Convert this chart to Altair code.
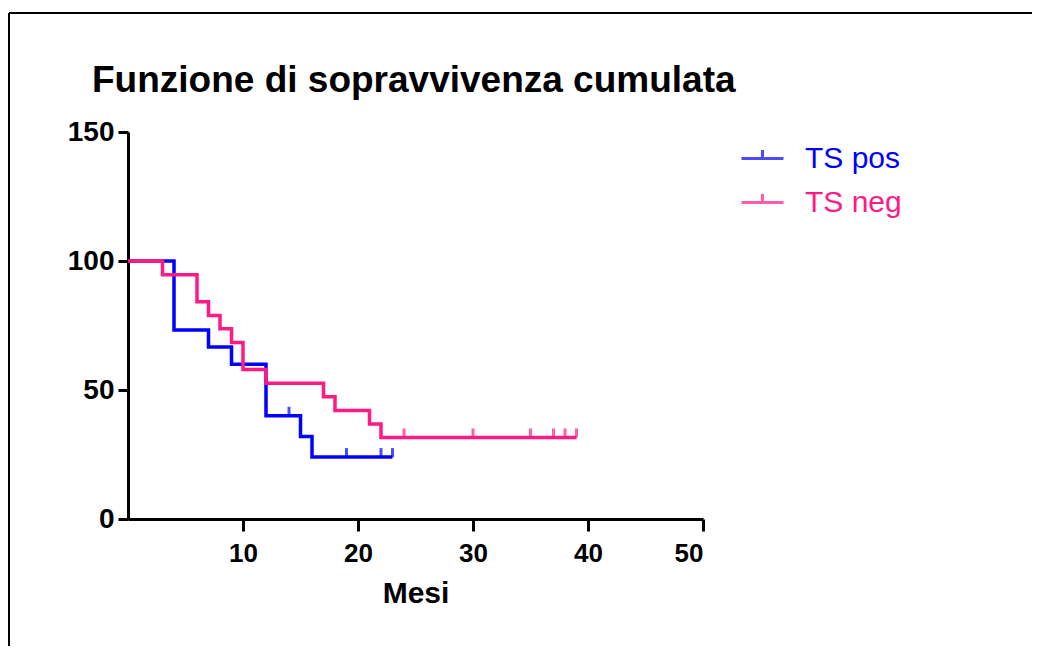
import altair as alt
import pandas as pd

# ---- data ----
series_names = ["TS pos", "TS neg"]
series_colors = ["#0000FF", "#FF1A85"]

pos_time = [0, 4, 7, 9, 12, 15, 16, 23]
pos_surv = [100, 73.3, 66.7, 60, 40, 32, 24, 24]
pos_cens_time = [14, 19, 22, 23]
pos_cens_surv = [40, 24, 24, 24]

neg_time = [0, 3, 6, 7, 8, 9, 10, 12, 17, 18, 21, 22, 39]
neg_surv = [100, 94.7, 84.2, 78.9, 73.7, 68.4, 57.9, 52.6, 47.4, 42.1, 36.8, 31.6, 31.6]
neg_cens_time = [24, 30, 35, 37, 38, 39]
neg_cens_surv = [31.6, 31.6, 31.6, 31.6, 31.6, 31.6]

x_ticks = [10, 20, 30, 40, 50]
y_ticks = [0, 50, 100, 150]

FONT = "Liberation Sans"

pos_df = pd.DataFrame({"t": pos_time, "s": pos_surv, "g": "TS pos"})
neg_df = pd.DataFrame({"t": neg_time, "s": neg_surv, "g": "TS neg"})
cens_df = pd.concat([
    pd.DataFrame({"t": pos_cens_time, "s": pos_cens_surv, "g": "TS pos"}),
    pd.DataFrame({"t": neg_cens_time, "s": neg_cens_surv, "g": "TS neg"}),
])

color = alt.Color(
    "g:N",
    scale=alt.Scale(domain=series_names, range=series_colors),
    legend=alt.Legend(
        title=None,
        orient="none",
        legendX=612,
        legendY=4,
        padding=0,
        symbolType="M-1,0L1,0M0,0L0,-0.4",
        symbolSize=1764,
        symbolStrokeWidth=3,
        symbolFillColor="transparent",
        labelFont=FONT,
        labelFontSize=30,
        labelOffset=20,
        rowPadding=6,
        labelColor={"expr": "datum.label === 'TS pos' ? '#0000FF' : '#FF1A85'"},
    ),
)

x = alt.X(
    "t:Q",
    scale=alt.Scale(domain=[0, 50], nice=False, zero=True),
    axis=alt.Axis(
        values=x_ticks, title="Mesi", grid=False,
        domainColor="black", domainWidth=3, tickColor="black", tickWidth=3,
        tickSize=12, labelPadding=9, labelFont=FONT, labelFontSize=26,
        labelFontWeight="bold", labelColor="black",
        titleFont=FONT, titleFontSize=30, titleFontWeight="bold",
        titleColor="black", titlePadding=12,
    ),
)
y = alt.Y(
    "s:Q",
    scale=alt.Scale(domain=[0, 150], nice=False),
    axis=alt.Axis(
        values=y_ticks, title=None, grid=False,
        domainColor="black", domainWidth=3, tickColor="black", tickWidth=3,
        tickSize=10, labelPadding=4, labelFont=FONT, labelFontSize=28,
        labelFontWeight="bold", labelColor="black",
    ),
)

line_pos = alt.Chart(pos_df).mark_line(interpolate="step-after", strokeWidth=3.5).encode(
    x=x, y=y, color=color)
line_neg = alt.Chart(neg_df).mark_line(interpolate="step-after", strokeWidth=3.5).encode(
    x=x, y=y, color=color)
cens = alt.Chart(cens_df).mark_tick(orient="vertical", size=9, thickness=3, yOffset=-4.5).encode(
    x=x, y=y, color=color)

frame_top = alt.Chart(alt.Data(values=[{}])).mark_rule(color="black", strokeWidth=2).encode(
    x=alt.value(-119), x2=alt.value(920), y=alt.value(-119))
frame_left = alt.Chart(alt.Data(values=[{}])).mark_rule(color="black", strokeWidth=2).encode(
    x=alt.value(-119), y=alt.value(-119), y2=alt.value(600))

chart = alt.layer(frame_top, frame_left, line_pos, line_neg, cens).properties(
    width=575,
    height=387,
    autosize="none",
    background="white",
    padding={"left": 120, "top": 124, "right": 329, "bottom": 127},
    title=alt.Title(
        "Funzione di sopravvivenza cumulata",
        anchor="start", frame="group", font=FONT, fontSize=37,
        fontWeight="bold", color="black", dx=-36, offset=-117,
        baseline="alphabetic",
    ),
).configure_view(stroke="transparent", strokeWidth=0)

chart.save("out.html", embed_options={"renderer": "svg", "actions": False})
